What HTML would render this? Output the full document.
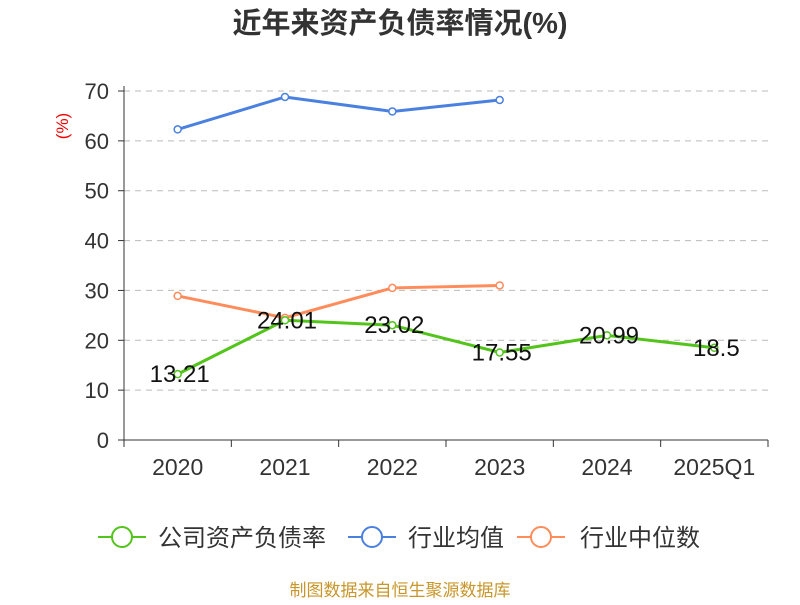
<!DOCTYPE html>
<html><head><meta charset="utf-8"><style>
body{margin:0;background:#fff;}
svg text{font-family:"Liberation Sans","Noto Sans CJK SC",sans-serif;}
</style></head><body>
<svg id="chart" width="800" height="600" xmlns="http://www.w3.org/2000/svg">
<text x="400" y="33" text-anchor="middle" font-size="29" font-weight="bold" fill="#333">近年来资产负债率情况(%)</text>
<text transform="translate(68,126) rotate(-90)" text-anchor="middle" font-size="17" fill="#e00">(%)</text>
<g id="grid"></g><g id="axes"></g><g id="series"></g>
<g>
<g><line x1="98" y1="537" x2="146" y2="537" stroke="#52c41a" stroke-width="2"/><circle cx="122" cy="537" r="10" fill="#fff" stroke="#52c41a" stroke-width="2"/><text x="158" y="546" font-size="24" fill="#333">公司资产负债率</text></g>
<g><line x1="348" y1="537" x2="396" y2="537" stroke="#4a80e0" stroke-width="2"/><circle cx="372" cy="537" r="10" fill="#fff" stroke="#4a80e0" stroke-width="2"/><text x="408" y="546" font-size="24" fill="#333">行业均值</text></g>
<g><line x1="517" y1="537" x2="565" y2="537" stroke="#ff8c5a" stroke-width="2"/><circle cx="541" cy="537" r="10" fill="#fff" stroke="#ff8c5a" stroke-width="2"/><text x="580" y="546" font-size="24" fill="#333">行业中位数</text></g>
</g>
<text x="400" y="596" text-anchor="middle" font-size="17" fill="#c8962a">制图数据来自恒生聚源数据库</text>
</svg>
<script>
const categories=["2020","2021","2022","2023","2024","2025Q1"];
const companyValues=[13.21,24.01,23.02,17.55,20.99,18.5];
const industryAvg=[62.3,68.8,65.9,68.2];
const industryMedian=[28.9,24.5,30.5,31.0];
const yTicks=[0,10,20,30,40,50,60,70];
const NS="http://www.w3.org/2000/svg";
const x0=124,x1=768,band=(x1-x0)/categories.length;
const yScale=v=>440-v*(440-91)/70;
const xScale=i=>x0+band*(i+0.5);
function mk(tag,attrs,parent){const e=document.createElementNS(NS,tag);for(const k in attrs)e.setAttribute(k,attrs[k]);parent.appendChild(e);return e;}
const grid=document.getElementById('grid'),axes=document.getElementById('axes'),ser=document.getElementById('series');
yTicks.forEach(t=>{const y=yScale(t);
 if(t>0){const g=mk('line',{x1:x0,x2:x1,y1:y,y2:y,stroke:'#bbb','stroke-dasharray':'6,5'},grid);
 
 }
 const tk=mk('line',{x1:x0-6,x2:x0,y1:y,y2:y,stroke:'#333'},axes);
 
 
 const tx=mk('text',{x:x0-15,y:y+8,'text-anchor':'end','font-size':22,fill:'#333'},axes);tx.textContent=t;
 
 
});
const ya=mk('line',{x1:x0,x2:x0,y1:86,y2:440,stroke:'#333'},axes);


const xa=mk('line',{x1:x0,x2:x1,y1:440,y2:440,stroke:'#333'},axes);


for(let i=0;i<=categories.length;i++){const x=x0+band*i;const t=mk('line',{x1:x,x2:x,y1:440,y2:447,stroke:'#333'},axes);
 
 }
categories.forEach((c,i)=>{const t=mk('text',{x:xScale(i),y:475,'text-anchor':'middle','font-size':23,fill:'#333'},axes);t.textContent=c;
 
 });
function series(vals,color,name,labels){
 const pts=vals.map((v,i)=>xScale(i)+','+yScale(v)).join(' ');
 const pl=mk('polyline',{points:pts,fill:'none',stroke:color,'stroke-width':3},ser);
 
 
 vals.forEach((v,i)=>{const c=mk('circle',{cx:xScale(i),cy:yScale(v),r:3.5,fill:'#fff',stroke:color,'stroke-width':1.5},ser);
  
  
  if(labels){const t=mk('text',{x:xScale(i)+2,y:yScale(v)+8,'text-anchor':'middle','font-size':24,fill:'#111'},ser);t.textContent=v;
   
   }
 });
}
series(industryAvg,'#4a80e0','industry-avg',false);
series(industryMedian,'#ff8c5a','industry-median',false);
series(companyValues,'#52c41a','company',true);
</script>
</body></html>
